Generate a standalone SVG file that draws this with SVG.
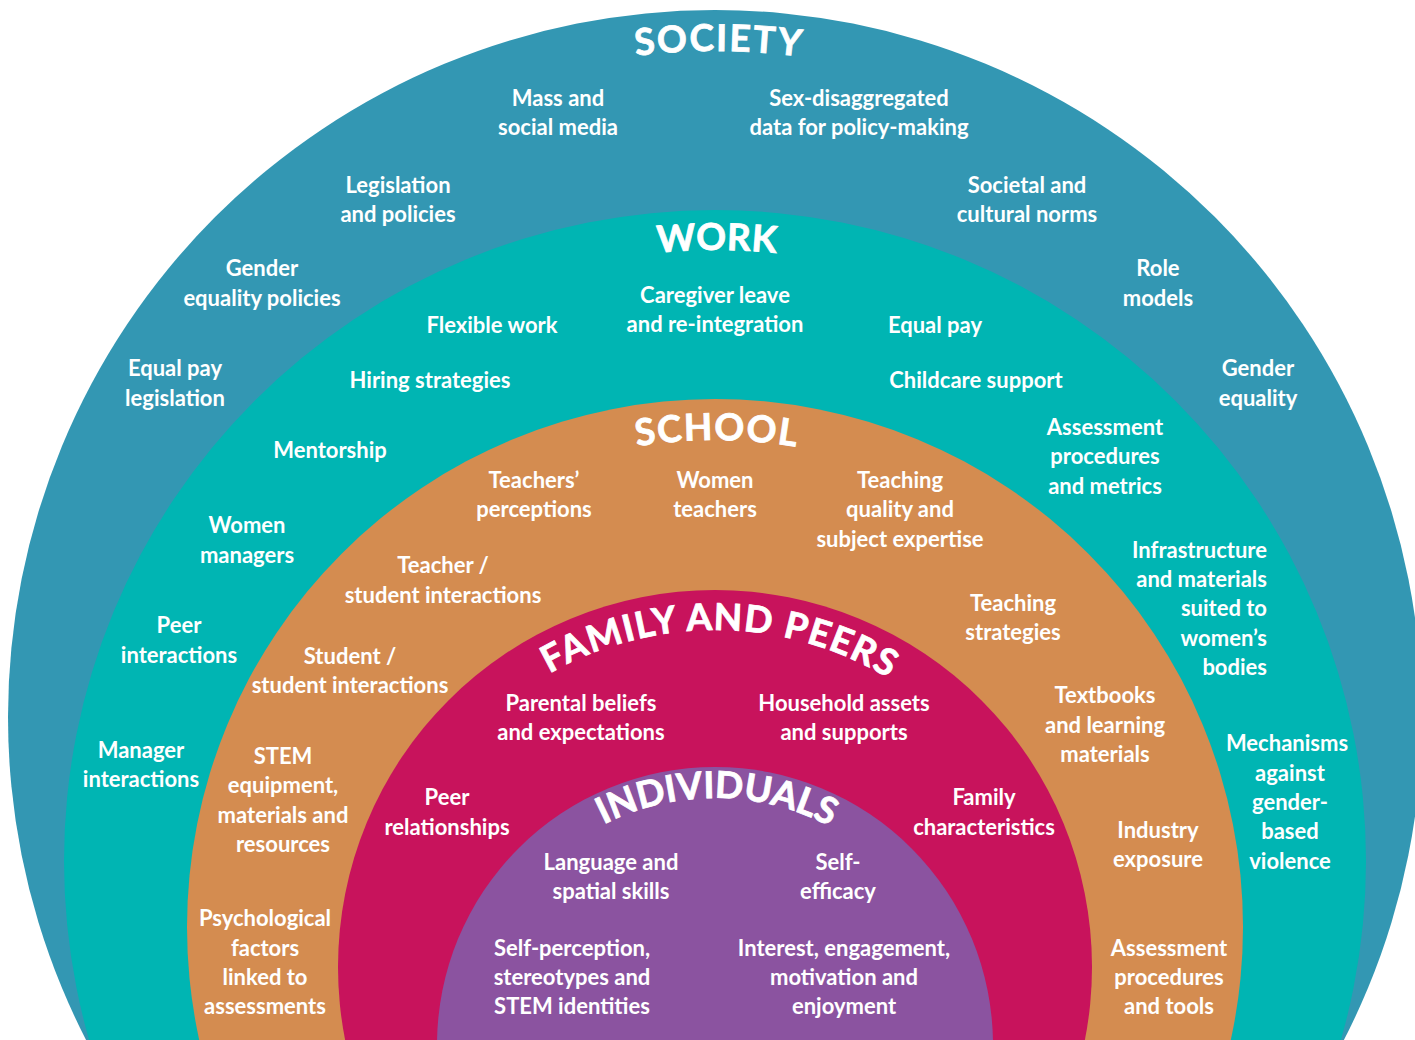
<svg xmlns="http://www.w3.org/2000/svg" width="1415" height="1040" viewBox="0 0 1415 1040">
  <style>
    .t { font-family: Lato, "Open Sans", "Liberation Sans", sans-serif; font-weight: 700; font-size: 22px; fill: #ffffff; text-anchor: middle; }
    .r { text-anchor: end; }
    .title { font-family: Lato, "Open Sans", "Liberation Sans", sans-serif; font-weight: 700; font-size: 37px; fill: #ffffff; stroke: #ffffff; stroke-width: 0.8px; text-anchor: middle; }
  </style>
  <defs>
    <path id="arc-society" d="M 49 717 A 666 666 0 0 1 1381 717"/>
    <path id="arc-work" d="M 104 861 A 611 611 0 0 1 1326 861"/>
    <path id="arc-school" d="M 228 927 A 487 487 0 0 1 1202 927"/>
    <path id="arc-family" d="M 378 967 A 337 337 0 0 1 1052 967"/>
    <path id="arc-individuals" d="M 468 1045 A 247 247 0 0 1 962 1045"/>
  </defs>
  <rect width="1415" height="1040" fill="#ffffff"/>

  <!-- Outer ring: society -->
  <g id="society">
    <circle cx="715" cy="717" r="707" fill="#3397b3"/>
    <text class="title" letter-spacing="2" dx="4"><textPath href="#arc-society" startOffset="50%">SOCIETY</textPath></text>
    <text class="t" x="558" y="106">Mass and</text>
    <text class="t" x="558" y="135">social media</text>
    <text class="t" x="859" y="106">Sex-disaggregated</text>
    <text class="t" x="859" y="135">data for policy-making</text>
    <text class="t" x="398" y="193">Legislation</text>
    <text class="t" x="398" y="222">and policies</text>
    <text class="t" x="1027" y="193">Societal and</text>
    <text class="t" x="1027" y="222">cultural norms</text>
    <text class="t" x="262" y="276">Gender</text>
    <text class="t" x="262" y="306">equality policies</text>
    <text class="t" x="1158" y="276">Role</text>
    <text class="t" x="1158" y="306">models</text>
    <text class="t" x="175" y="376">Equal pay</text>
    <text class="t" x="175" y="406">legislation</text>
    <text class="t" x="1258" y="376">Gender</text>
    <text class="t" x="1258" y="406">equality</text>
  </g>

  <!-- Work ring -->
  <g id="work">
    <circle cx="715" cy="861" r="651" fill="#00b5b3"/>
    <text class="title" letter-spacing="0.5" dx="2"><textPath href="#arc-work" startOffset="50%">WORK</textPath></text>
    <text class="t" x="715" y="303">Caregiver leave</text>
    <text class="t" x="715" y="332">and re-integration</text>
    <text class="t" x="492" y="333">Flexible work</text>
    <text class="t" x="935" y="333">Equal pay</text>
    <text class="t" x="430" y="388">Hiring strategies</text>
    <text class="t" x="976" y="388">Childcare support</text>
    <text class="t" x="330" y="458">Mentorship</text>
    <text class="t" x="1105" y="435">Assessment</text>
    <text class="t" x="1105" y="464">procedures</text>
    <text class="t" x="1105" y="494">and metrics</text>
    <text class="t" x="247" y="533">Women</text>
    <text class="t" x="247" y="563">managers</text>
    <text class="t r" x="1267" y="558">Infrastructure</text>
    <text class="t r" x="1267" y="587">and materials</text>
    <text class="t r" x="1267" y="616">suited to</text>
    <text class="t r" x="1267" y="646">women’s</text>
    <text class="t r" x="1267" y="675">bodies</text>
    <text class="t" x="179" y="633">Peer</text>
    <text class="t" x="179" y="663">interactions</text>
    <text class="t" x="1287" y="751">Mechanisms</text>
    <text class="t" x="1290" y="781">against</text>
    <text class="t" x="1290" y="810">gender-</text>
    <text class="t" x="1290" y="839">based</text>
    <text class="t" x="1290" y="869">violence</text>
    <text class="t" x="141" y="758">Manager</text>
    <text class="t" x="141" y="787">interactions</text>
  </g>

  <!-- School ring -->
  <g id="school">
    <circle cx="715" cy="927" r="528" fill="#d48c50"/>
    <text class="title" letter-spacing="1.5" dx="2"><textPath href="#arc-school" startOffset="50%">SCHOOL</textPath></text>
    <text class="t" x="534" y="488">Teachers’</text>
    <text class="t" x="534" y="517">perceptions</text>
    <text class="t" x="715" y="488">Women</text>
    <text class="t" x="715" y="517">teachers</text>
    <text class="t" x="900" y="488">Teaching</text>
    <text class="t" x="900" y="517">quality and</text>
    <text class="t" x="900" y="547">subject expertise</text>
    <text class="t" x="443" y="573">Teacher /</text>
    <text class="t" x="443" y="603">student interactions</text>
    <text class="t" x="1013" y="611">Teaching</text>
    <text class="t" x="1013" y="640">strategies</text>
    <text class="t" x="350" y="664">Student /</text>
    <text class="t" x="350" y="693">student interactions</text>
    <text class="t" x="1105" y="703">Textbooks</text>
    <text class="t" x="1105" y="733">and learning</text>
    <text class="t" x="1105" y="762">materials</text>
    <text class="t" x="283" y="764">STEM</text>
    <text class="t" x="283" y="793">equipment,</text>
    <text class="t" x="283" y="823">materials and</text>
    <text class="t" x="283" y="852">resources</text>
    <text class="t" x="1158" y="838">Industry</text>
    <text class="t" x="1158" y="867">exposure</text>
    <text class="t" x="265" y="926">Psychological</text>
    <text class="t" x="265" y="956">factors</text>
    <text class="t" x="265" y="985">linked to</text>
    <text class="t" x="265" y="1014">assessments</text>
    <text class="t" x="1169" y="956">Assessment</text>
    <text class="t" x="1169" y="985">procedures</text>
    <text class="t" x="1169" y="1014">and tools</text>
  </g>

  <!-- Family and peers ring -->
  <g id="family-and-peers">
    <circle cx="715" cy="967" r="377" fill="#c8135c"/>
    <text class="title" letter-spacing="1.2" dx="5"><textPath href="#arc-family" startOffset="50%">FAMILY AND PEERS</textPath></text>
    <text class="t" x="581" y="711">Parental beliefs</text>
    <text class="t" x="581" y="740">and expectations</text>
    <text class="t" x="844" y="711">Household assets</text>
    <text class="t" x="844" y="740">and supports</text>
    <text class="t" x="447" y="805">Peer</text>
    <text class="t" x="447" y="835">relationships</text>
    <text class="t" x="984" y="805">Family</text>
    <text class="t" x="984" y="835">characteristics</text>
  </g>

  <!-- Innermost: individuals -->
  <g id="individuals">
    <circle cx="715" cy="1045" r="278" fill="#8b53a0"/>
    <text class="title" letter-spacing="0" dx="2"><textPath href="#arc-individuals" startOffset="50%">INDIVIDUALS</textPath></text>
    <text class="t" x="611" y="870">Language and</text>
    <text class="t" x="611" y="899">spatial skills</text>
    <text class="t" x="838" y="870">Self-</text>
    <text class="t" x="838" y="899">efficacy</text>
    <text class="t" x="572" y="956">Self-perception,</text>
    <text class="t" x="572" y="985">stereotypes and</text>
    <text class="t" x="572" y="1014">STEM identities</text>
    <text class="t" x="844" y="956">Interest, engagement,</text>
    <text class="t" x="844" y="985">motivation and</text>
    <text class="t" x="844" y="1014">enjoyment</text>
  </g>
</svg>
